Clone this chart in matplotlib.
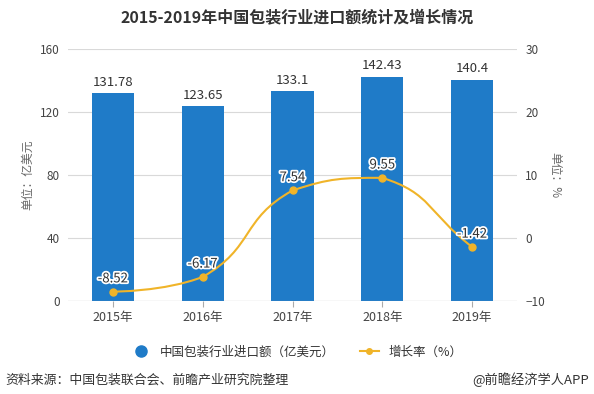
import matplotlib
matplotlib.use("Agg")
import matplotlib.pyplot as plt
import numpy as np
from matplotlib.path import Path
from matplotlib.patches import PathPatch
import matplotlib.patheffects as pe
from matplotlib.lines import Line2D

plt.rcParams['font.family'] = ['Noto Sans CJK SC', 'DejaVu Sans']

years = ['2015年', '2016年', '2017年', '2018年', '2019年']
imports = [131.78, 123.65, 133.1, 142.43, 140.4]
growth = [-8.52, -6.17, 7.54, 9.55, -1.42]
import_labels = ['131.78', '123.65', '133.1', '142.43', '140.4']
growth_labels = ['-8.52', '-6.17', '7.54', '9.55', '-1.42']

BAR = '#1F7BC8'
LINE = '#F0B429'
TXT = '#444444'

fig = plt.figure(figsize=(5.94, 3.94), dpi=100)
ax = fig.add_axes([68/594, 1-301/394, (517-68)/594, (301-49)/394])
ax2 = ax.twinx()

x = np.arange(len(years))
ax.bar(x, imports, width=0.47, color=BAR, zorder=2)
ax.set_xlim(-0.5, 4.5)
ax.set_ylim(0, 160)
ax.set_yticks([0, 40, 80, 120, 160])
ax2.set_ylim(-10, 30)
ax2.set_yticks([-10, 0, 10, 20, 30])
ax.grid(axis='y', color='#d9d9d9', lw=0.8, zorder=0)
for a in (ax, ax2):
    for s in ['top', 'left', 'right', 'bottom']:
        a.spines[s].set_visible(False)
    a.tick_params(length=0, labelsize=8.5, colors=TXT)
ax.axhline(0, color='#aaaaaa', lw=0.8, zorder=3)
ax.set_xticks(x)
ax.set_xticklabels(years)
ax.tick_params(axis='x', pad=3, length=4, color='#aaaaaa', labelsize=9)
ax.tick_params(axis='y', pad=6)
ax2.tick_params(axis='y', pad=6)
ax.set_ylabel('单位：亿美元', fontsize=8.5, color='#666666', labelpad=4)
ax2.set_ylabel('单位：%', fontsize=8.5, color='#666666', rotation=-90, labelpad=12)

for xi, v, t in zip(x, imports, import_labels):
    ax.text(xi, v + 3, t, ha='center', va='bottom', fontsize=9.5, color='#333333', zorder=5)

# echarts-like smooth line (control points clamped between neighbours), built in display space
fig.canvas.draw()
tr = ax2.transData
P = tr.transform(np.column_stack([x, growth]).astype(float))
n = len(P)
smooth = 0.5
verts = [tuple(P[0])]
codes = [Path.MOVETO]
cp0 = P[0].copy()
for i in range(n - 1):
    prev = P[i]
    cur = P[i + 1]
    nxt = P[i + 2] if i + 2 < n else cur
    v = nxt - prev
    lp = np.hypot(*(cur - prev))
    ln = np.hypot(*(nxt - cur))
    rp = lp / (lp + ln)
    rn = ln / (lp + ln)
    cp1 = cur - v * smooth * rp
    cp1 = np.minimum(cp1, np.maximum(prev, cur))
    cp1 = np.maximum(cp1, np.minimum(prev, cur))
    verts += [tuple(cp0), tuple(cp1), tuple(cur)]
    codes += [Path.CURVE4] * 3
    ncp0 = cur + v * smooth * rn
    ncp0 = np.minimum(ncp0, np.maximum(nxt, cur))
    ncp0 = np.maximum(ncp0, np.minimum(nxt, cur))
    cp0 = ncp0
dverts = tr.inverted().transform(np.array(verts))
patch = PathPatch(Path(dverts, codes), facecolor='none', edgecolor=LINE, lw=1.5, zorder=4)
ax2.add_patch(patch)
ax2.plot(x, growth, 'o', color=LINE, ms=5, mec=LINE, zorder=5)
for xi, v, t in zip(x, growth, growth_labels):
    ax2.text(xi, v + 1.0, t, ha='center', va='bottom', fontsize=9.5, color='#333333', zorder=6,
             path_effects=[pe.withStroke(linewidth=2.5, foreground='white')])

fig.text(0.5, 1-17/394, '2015-2019年中国包装行业进口额统计及增长情况', ha='center', va='center',
         fontsize=11.5, fontweight='bold', color='#333333')

handles = [Line2D([], [], marker='o', ls='none', color=BAR, ms=8),
           Line2D([], [], marker='o', color=LINE, lw=1.5, ms=4)]
fig.legend(handles, ['中国包装行业进口额（亿美元）', '增长率（%）'], loc='center',
           bbox_to_anchor=(0.5, 1-352/394), ncol=2, frameon=False, fontsize=9,
           handlelength=1.5, columnspacing=2.0, labelcolor='#333333')

fig.text(5/594, 1-380/394, '资料来源：中国包装联合会、前瞻产业研究院整理', ha='left', va='center',
         fontsize=9.3, color='#333333')
fig.text(589/594, 1-380/394, '@前瞻经济学人APP', ha='right', va='center',
         fontsize=9.5, color='#333333')

fig.savefig('out.png', dpi=100)
